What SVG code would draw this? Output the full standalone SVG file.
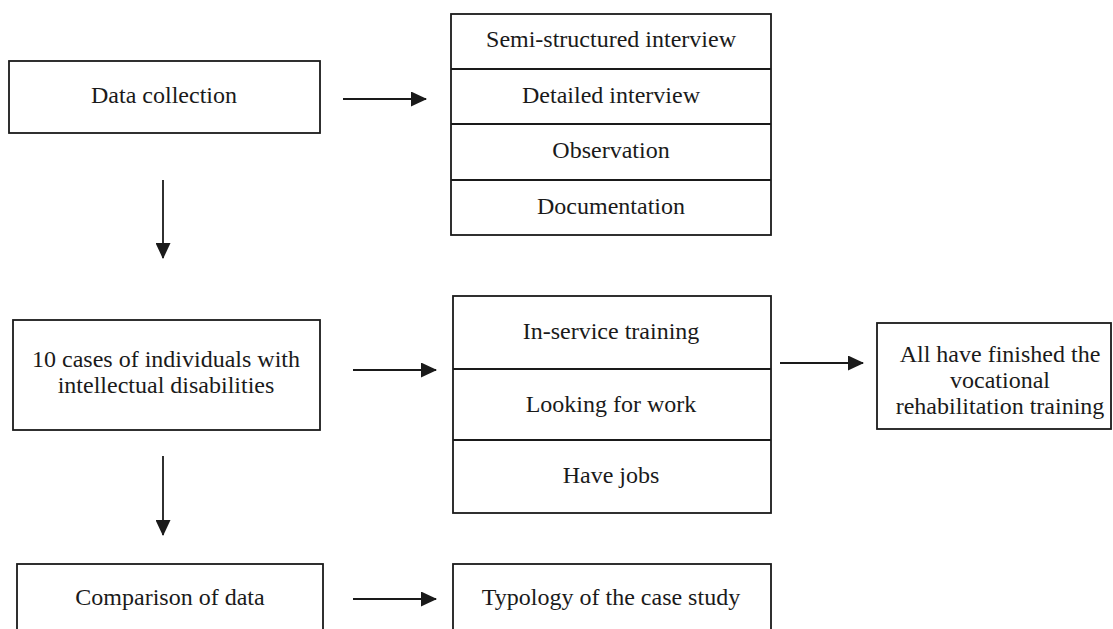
<svg xmlns="http://www.w3.org/2000/svg" width="1113" height="629" viewBox="0 0 1113 629">
<defs>
<style>
.box{fill:#fff;stroke:#1a1a1a;stroke-width:1.8}
.div{stroke:#1a1a1a;stroke-width:1.8}
.t{font-family:"Liberation Serif","Times New Roman",serif;font-size:24px;fill:#1a1a1a;text-anchor:middle}
.c{stroke:#1a1a1a;stroke-width:1.8;fill:none;marker-end:url(#ah)}
</style>
<marker id="ah" viewBox="0 0 16 15" refX="15" refY="7.5" markerUnits="userSpaceOnUse" markerWidth="16" markerHeight="15" orient="auto">
<path d="M0,0 L16,7.5 L0,15 Z" fill="#1a1a1a"/>
</marker>
</defs>
<rect width="1113" height="629" fill="#fff"/>
<g id="connectors">
<line class="c" x1="343" y1="99" x2="426" y2="99"/>
<line class="c" x1="163" y1="180" x2="163" y2="258"/>
<line class="c" x1="353" y1="370" x2="436" y2="370"/>
<line class="c" x1="780" y1="363" x2="863" y2="363"/>
<line class="c" x1="163" y1="456" x2="163" y2="535"/>
<line class="c" x1="353" y1="599" x2="436" y2="599"/>
</g>
<g id="data-collection">
<rect class="box" x="9" y="61" width="311" height="72"/>
<text class="t" x="164" y="103">Data collection</text>
</g>
<g id="methods">
<rect class="box" x="451" y="14" width="320" height="221"/>
<line class="div" x1="451" y1="69" x2="771" y2="69"/>
<line class="div" x1="451" y1="124" x2="771" y2="124"/>
<line class="div" x1="451" y1="180" x2="771" y2="180"/>
<text class="t" x="611" y="47">Semi-structured interview</text>
<text class="t" x="611" y="103">Detailed interview</text>
<text class="t" x="611" y="158">Observation</text>
<text class="t" x="611" y="214">Documentation</text>
</g>
<g id="cases">
<rect class="box" x="13" y="320" width="307" height="110"/>
<text class="t" x="166" y="367">10 cases of individuals with</text>
<text class="t" x="166" y="393">intellectual disabilities</text>
</g>
<g id="status">
<rect class="box" x="453" y="296" width="318" height="217"/>
<line class="div" x1="453" y1="369" x2="771" y2="369"/>
<line class="div" x1="453" y1="440" x2="771" y2="440"/>
<text class="t" x="611" y="339">In-service training</text>
<text class="t" x="611" y="412">Looking for work</text>
<text class="t" x="611" y="483">Have jobs</text>
</g>
<g id="finished">
<rect class="box" x="877" y="323" width="234" height="106"/>
<text class="t" x="1000" y="362">All have finished the</text>
<text class="t" x="1000" y="388">vocational</text>
<text class="t" x="1000" y="414">rehabilitation training</text>
</g>
<g id="comparison">
<rect class="box" x="17" y="564" width="306" height="100"/>
<text class="t" x="170" y="605">Comparison of data</text>
</g>
<g id="typology">
<rect class="box" x="453" y="564" width="318" height="100"/>
<text class="t" x="611" y="605">Typology of the case study</text>
</g>
</svg>
